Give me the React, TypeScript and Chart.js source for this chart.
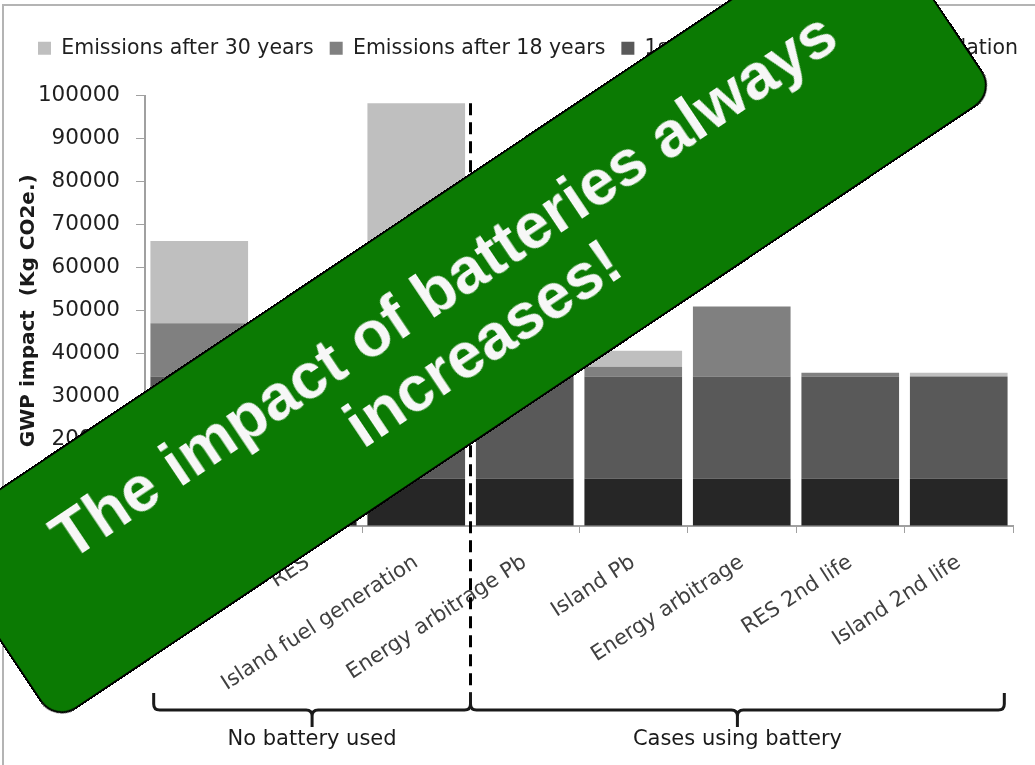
import React, { useEffect, useRef } from "react";
import { Chart, registerables } from "chart.js";

Chart.register(...registerables);

// ---- data ----
const categories = [
  "Grid",
  "RES",
  "Island fuel generation",
  "Energy arbitrage Pb",
  "Island Pb",
  "Energy arbitrage",
  "RES 2nd life",
  "Island 2nd life",
];
// stacked from bottom to top
const installation = [11000, 11000, 11000, 11000, 11000, 11000, 11000, 11000];
const first12Years = [23700, 23700, 23700, 23700, 23700, 23700, 23700, 23700];
const after18Years = [12400, 2300, 31300, 23400, 2300, 16300, 900, 0];
const after30Years = [19100, 3000, 32200, 23000, 3700, 0, 0, 900];

const seriesNames = [
  "Systems installation",
  "1st 12 years",
  "Emissions after 18 years",
  "Emissions after 30 years",
];
const seriesColors = ["#262626", "#595959", "#808080", "#bfbfbf"];

const yMin = 0;
const yMax = 100000;
const yStep = 10000;
const yTitle = "GWP impact  (Kg CO2e.)";

const groupLabels = ["No battery used", "Cases using battery"];
const groupStart = [0, 3];
const groupEnd = [2, 7];

const bannerLines = ["The impact of batteries always", "increases!"];

const seriesData = [installation, first12Years, after18Years, after30Years];

const bracesPlugin = {
  id: "braces",
  afterDatasetsDraw(chart: any) {
    const { ctx, chartArea } = chart;
    const xs = chart.scales.x;
    const ys = chart.scales.y;
    const step = xs.getPixelForValue(1) - xs.getPixelForValue(0);
    const divider =
      (xs.getPixelForValue(groupEnd[0]) + xs.getPixelForValue(groupStart[1])) / 2;
    const totals = categories.map((_, i) =>
      seriesData.reduce((s, arr) => s + arr[i], 0)
    );
    const topY = ys.getPixelForValue(Math.max(...totals));
    const b = chartArea.bottom;
    const yEnd = b + 167;
    const yLine = b + 184;
    const yCusp = b + 201;
    const yText = b + 214;

    ctx.save();
    // dashed divider
    ctx.strokeStyle = "#000";
    ctx.lineWidth = 3;
    ctx.setLineDash([12, 7]);
    ctx.beginPath();
    ctx.moveTo(divider, topY);
    ctx.lineTo(divider, yEnd);
    ctx.stroke();
    ctx.setLineDash([]);

    const r = 6;
    const brace = (x1: number, x2: number) => {
      const xm = (x1 + x2) / 2;
      ctx.beginPath();
      ctx.moveTo(x1, yEnd);
      ctx.lineTo(x1, yLine - r);
      ctx.quadraticCurveTo(x1, yLine, x1 + r, yLine);
      ctx.lineTo(xm - r, yLine);
      ctx.quadraticCurveTo(xm, yLine, xm, yLine + r);
      ctx.lineTo(xm, yCusp);
      ctx.moveTo(xm, yLine + r);
      ctx.quadraticCurveTo(xm, yLine, xm + r, yLine);
      ctx.lineTo(x2 - r, yLine);
      ctx.quadraticCurveTo(x2, yLine, x2, yLine - r);
      ctx.lineTo(x2, yEnd);
      ctx.stroke();
      return xm;
    };
    ctx.strokeStyle = "#1a1a1a";
    ctx.lineWidth = 3;
    ctx.lineJoin = "round";
    ctx.font = '21px "DejaVu Sans"';
    ctx.fillStyle = "#1a1a1a";
    ctx.textAlign = "center";
    ctx.textBaseline = "middle";
    groupLabels.forEach((label, g) => {
      const x1 =
        g === 0 ? xs.getPixelForValue(groupStart[g]) - 0.42 * step : divider;
      const x2 =
        g === groupLabels.length - 1
          ? xs.getPixelForValue(groupEnd[g]) + 0.42 * step
          : divider;
      const xm = brace(x1, x2);
      ctx.fillText(label, xm, yText);
    });
    ctx.restore();
  },
};

export default function App() {
  const ref = useRef<HTMLCanvasElement>(null);

  useEffect(() => {
    const canvas = ref.current;
    if (!canvas) return;
    const chart = new Chart(canvas, {
      type: "bar",
      data: {
        labels: categories,
        datasets: seriesNames.map((name, i) => ({
          label: name,
          data: seriesData[i],
          backgroundColor: seriesColors[i],
          borderWidth: 0,
          barPercentage: 0.9,
          categoryPercentage: 1,
        })),
      },
      options: {
        responsive: false,
        animation: false,
        devicePixelRatio: 1,
        layout: { padding: { left: 22, right: 0, top: 22, bottom: 0 } },
        plugins: {
          legend: {
            position: "top",
            align: "start",
            reverse: true,
            weight: 3000,
            labels: {
              boxWidth: 13,
              boxHeight: 13,
              padding: 16,
              color: "#1f1f1f",
              font: { family: "DejaVu Sans", size: 20.5 },
            },
          },
          title: {
            display: true,
            text: "",
            weight: 2000,
            padding: { top: 0, bottom: 17 },
            font: { size: 10, lineHeight: 1 },
          },
          tooltip: { enabled: false },
        },
        scales: {
          x: {
            stacked: true,
            offset: true,
            grid: {
              display: true,
              drawOnChartArea: false,
              drawTicks: true,
              tickLength: 7,
              color: "#a0a0a0",
              offset: true,
            },
            border: { display: true, color: "#a0a0a0", width: 2 },
            ticks: {
              autoSkip: false,
              maxRotation: 33,
              minRotation: 33,
              padding: 17,
              color: "#404040",
              font: { family: "DejaVu Sans", size: 21 },
            },
            afterFit: (s: any) => {
              s.height = 765 - 526;
            },
          },
          y: {
            stacked: true,
            min: yMin,
            max: yMax,
            ticks: {
              stepSize: yStep,
              padding: 16,
              color: "#1f1f1f",
              font: { family: "DejaVu Sans", size: 21.5 },
              callback: (v: any) => String(v),
            },
            grid: { drawOnChartArea: false, tickLength: 9, color: "#a0a0a0" },
            border: { display: true, color: "#a0a0a0", width: 2 },
            title: {
              display: true,
              text: yTitle,
              color: "#1a1a1a",
              padding: 0,
              font: { family: "DejaVu Sans", weight: "bold", size: 20, lineHeight: 0.7 },
            },
            afterFit: (s: any) => {
              s.width = 123;
            },
          },
          yRight: {
            type: "linear",
            axis: "y",
            position: "right",
            display: true,
            grid: { display: false },
            border: { display: false },
            ticks: { display: false },
            afterFit: (s: any) => {
              s.width = 22;
            },
          },
        },
      } as any,
      plugins: [bracesPlugin],
    });
    return () => chart.destroy();
  }, []);

  return (
    <div
      style={{
        position: "fixed",
        left: 0,
        top: 0,
        width: 1035,
        height: 765,
        overflow: "hidden",
        background: "#fff",
      }}
    >
      <div
        style={{
          position: "absolute",
          left: 2,
          top: 4,
          width: 1100,
          height: 900,
          border: "2px solid #b4b4b4",
        }}
      />
      <canvas
        ref={ref}
        width={1035}
        height={765}
        style={{ position: "absolute", left: 0, top: 0 }}
      />
      <div
        style={{
          position: "absolute",
          left: 463 - 567,
          top: 313.5 - 113,
          width: 1134,
          height: 226,
          transform: "rotate(-33.8deg)",
          background: "#0b7a03",
          border: "2px solid #000",
          borderRadius: 26,
          boxSizing: "border-box",
          display: "flex",
          flexDirection: "column",
          alignItems: "center",
          justifyContent: "center",
          color: "#f7f7f7",
          fontFamily: '"Liberation Sans", Arial, sans-serif',
          fontWeight: "bold",
          fontSize: 64,
          lineHeight: "70px",
          textAlign: "center",
          whiteSpace: "nowrap",
        }}
      >
        {bannerLines.map((l) => (
          <div key={l}>{l}</div>
        ))}
      </div>
    </div>
  );
}
